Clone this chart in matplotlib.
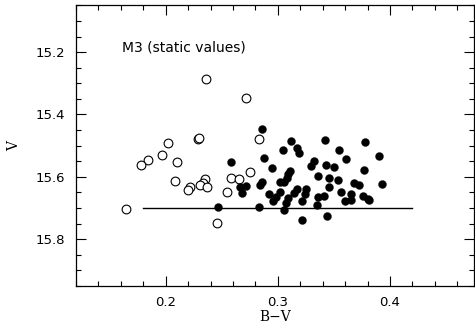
import matplotlib
matplotlib.use("Agg")
import matplotlib.pyplot as plt
from matplotlib.ticker import MultipleLocator

# open symbols
bv_open = [0.236, 0.272, 0.229, 0.230, 0.202, 0.197, 0.184, 0.178, 0.210, 0.275,
           0.258, 0.265, 0.208, 0.235, 0.233, 0.231, 0.237, 0.222, 0.220, 0.2545,
           0.165, 0.246, 0.283]
v_open = [15.287, 15.348, 15.478, 15.475, 15.490, 15.530, 15.546, 15.561, 15.551, 15.583,
          15.605, 15.607, 15.614, 15.608, 15.619, 15.626, 15.633, 15.631, 15.641, 15.647,
          15.704, 15.747, 15.477]

# filled symbols
bv_fill = [0.286, 0.258, 0.288, 0.295, 0.305, 0.286, 0.284, 0.266, 0.272, 0.268,
           0.292, 0.298, 0.296, 0.247, 0.283, 0.312, 0.317, 0.319, 0.342, 0.355,
           0.332, 0.330, 0.343, 0.350, 0.311, 0.309, 0.308, 0.336, 0.346, 0.354,
           0.302, 0.3055, 0.346, 0.317, 0.325, 0.324, 0.322, 0.314, 0.309, 0.307,
           0.302, 0.336, 0.3345, 0.341, 0.3055, 0.322, 0.344, 0.378, 0.361, 0.390,
           0.377, 0.368, 0.372, 0.393, 0.3565, 0.365, 0.365, 0.360, 0.376, 0.380,
           0.3815]
v_fill = [15.448, 15.552, 15.538, 15.571, 15.514, 15.615, 15.627, 15.634, 15.630, 15.651,
          15.656, 15.666, 15.676, 15.696, 15.696, 15.486, 15.506, 15.525, 15.483, 15.513,
          15.550, 15.565, 15.563, 15.568, 15.580, 15.590, 15.605, 15.598, 15.605, 15.610,
          15.616, 15.618, 15.633, 15.638, 15.638, 15.655, 15.677, 15.651, 15.668, 15.683,
          15.648, 15.665, 15.689, 15.662, 15.706, 15.739, 15.724, 15.488, 15.542, 15.534,
          15.578, 15.621, 15.626, 15.622, 15.647, 15.655, 15.675, 15.676, 15.662, 15.672,
          15.675]

# reference line
line_bv = [0.18, 0.42]
line_v = [15.70, 15.70]

plt.rcParams['font.family'] = ['DejaVu Sans']

fig = plt.figure(figsize=(4.75, 3.33), dpi=100)
ax = fig.add_axes([0.16, 0.141, 0.838, 0.843])

ax.plot(line_bv, line_v, color='black', lw=1.0)
ax.plot(bv_open, v_open, 'o', ms=6.3, mfc='white', mec='black', mew=0.8, ls='none')
ax.plot(bv_fill, v_fill, 'o', ms=5.8, mfc='black', mec='black', mew=0.2, ls='none')

ax.text(0.161, 15.186, 'M3 (static values)', fontsize=10, va='center', ha='left')

ax.set_xlim(0.12, 0.475)
ax.set_ylim(15.95, 15.05)
ax.xaxis.set_major_locator(MultipleLocator(0.1))
ax.xaxis.set_minor_locator(MultipleLocator(0.02))
ax.yaxis.set_major_locator(MultipleLocator(0.2))
ax.yaxis.set_minor_locator(MultipleLocator(0.05))
ax.tick_params(which='both', direction='in', top=True, right=True, width=0.8, labelsize=9.5)
ax.tick_params(which='major', length=7)
ax.tick_params(which='minor', length=3.5)
ax.tick_params(axis='x', pad=7)
ax.tick_params(axis='y', pad=8)
for s in ax.spines.values():
    s.set_linewidth(0.9)

ax.set_xlabel('B\u2212V', fontsize=10, family='DejaVu Serif', labelpad=1)
ax.set_ylabel('V', fontsize=10, family='DejaVu Serif', labelpad=10)

fig.savefig('out.png', dpi=100)
